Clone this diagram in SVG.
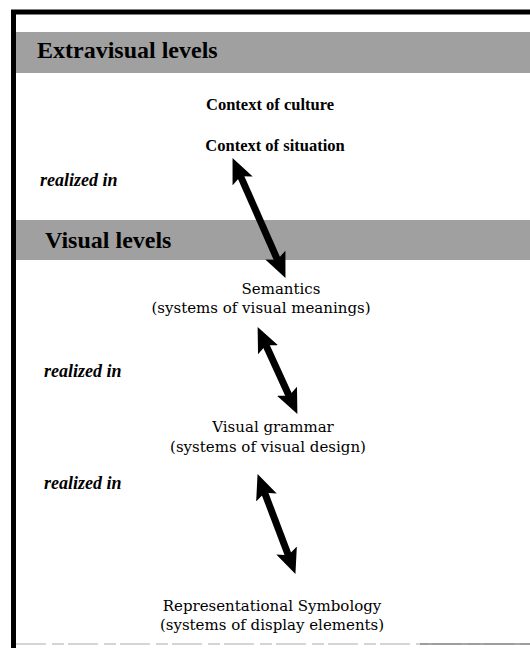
<svg xmlns="http://www.w3.org/2000/svg" width="530" height="648" viewBox="0 0 530 648">
  <style>
    .band { fill: #a0a0a0; }
    .head { font-family: "Liberation Serif", "Times New Roman", serif; font-weight: bold; font-size: 24px; fill: #000; }
    .ctx { font-family: "Liberation Serif", "Times New Roman", serif; font-weight: bold; font-size: 16.5px; fill: #000; text-anchor: middle; }
    .lvl { font-family: "DejaVu Serif", "Liberation Serif", serif; font-size: 15px; fill: #000; text-anchor: middle; }
    .rel { font-family: "Liberation Serif", "Times New Roman", serif; font-weight: bold; font-style: italic; font-size: 18px; fill: #000; }
    .conn { stroke: #000; stroke-width: 7; fill: none; marker-start: url(#ah); marker-end: url(#ah); }
  </style>
  <defs>
    <marker id="ah" markerUnits="userSpaceOnUse" markerWidth="26" markerHeight="24" refX="8" refY="12" orient="auto-start-reverse" viewBox="0 0 26 24">
      <path d="M0,1 L25,12 L0,23 L5,12 Z" fill="#000"/>
    </marker>
  </defs>
  <rect x="0" y="0" width="530" height="648" fill="#fff"/>
  <g id="frame">
    <line x1="11" y1="12" x2="530" y2="12" stroke="#000" stroke-width="5"/>
    <line x1="13.5" y1="10" x2="13.5" y2="648" stroke="#000" stroke-width="5"/>
    <line x1="16" y1="644" x2="530" y2="644" stroke="#c8c8c8" stroke-width="1.5" stroke-dasharray="30 6 12 4"/>
    <line x1="420" y1="644" x2="530" y2="644" stroke="#8a8a8a" stroke-width="1.5"/>
  </g>
  <g id="extravisual-levels">
    <rect class="band" x="16" y="32" width="514" height="41"/>
    <text class="head" x="37" y="58">Extravisual levels</text>
  </g>
  <g id="context-of-culture">
    <text class="ctx" x="270" y="110">Context of culture</text>
  </g>
  <g id="context-of-situation">
    <text class="ctx" x="275" y="151">Context of situation</text>
  </g>
  <g id="realized-in-1">
    <text class="rel" x="40" y="186">realized in</text>
  </g>
  <g id="visual-levels">
    <rect class="band" x="16" y="220" width="514" height="40"/>
    <text class="head" x="45" y="248">Visual levels</text>
  </g>
  <g id="semantics">
    <text class="lvl" x="281" y="294">Semantics</text>
    <text class="lvl" x="261" y="313">(systems of visual meanings)</text>
  </g>
  <g id="realized-in-2">
    <text class="rel" x="44" y="377">realized in</text>
  </g>
  <g id="visual-grammar">
    <text class="lvl" x="273" y="432">Visual grammar</text>
    <text class="lvl" x="268" y="452">(systems of visual design)</text>
  </g>
  <g id="realized-in-3">
    <text class="rel" x="44" y="489">realized in</text>
  </g>
  <g id="representational-symbology">
    <text class="lvl" x="272" y="611">Representational Symbology</text>
    <text class="lvl" x="272" y="630">(systems of display elements)</text>
  </g>
  <g id="connectors">
    <line class="conn" x1="239.4" y1="173.6" x2="278.6" y2="262.4"/>
    <line class="conn" x1="264.7" y1="342.5" x2="290.3" y2="398.5"/>
    <line class="conn" x1="263.6" y1="490" x2="289.4" y2="558"/>
  </g>
</svg>
